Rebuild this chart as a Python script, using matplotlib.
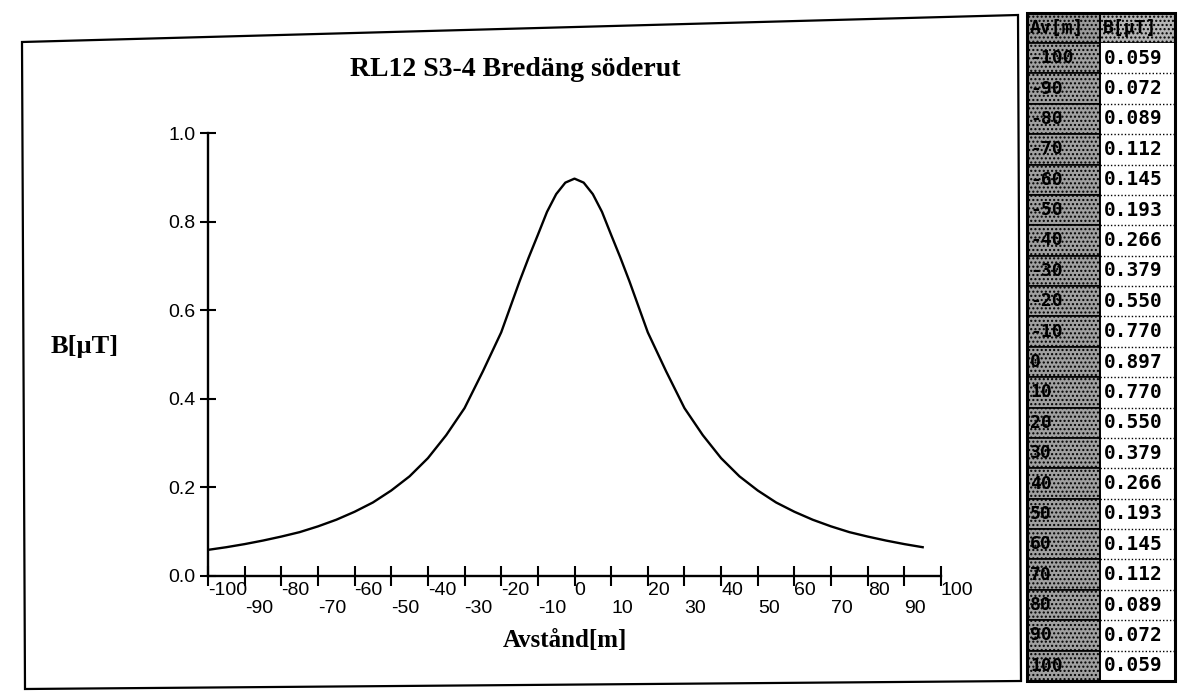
import matplotlib
matplotlib.use("Agg")
import matplotlib.pyplot as plt
from matplotlib.patches import Rectangle, Polygon
from matplotlib.lines import Line2D

# ---- data ----
table_dist = [-100, -90, -80, -70, -60, -50, -40, -30, -20, -10, 0,
              10, 20, 30, 40, 50, 60, 70, 80, 90, 100]
table_B = [0.059, 0.072, 0.089, 0.112, 0.145, 0.193, 0.266, 0.379, 0.550, 0.770, 0.897,
           0.770, 0.550, 0.379, 0.266, 0.193, 0.145, 0.112, 0.089, 0.072, 0.059]

# curve
curve_dist = [-100, -95, -90, -85, -80, -75, -70, -65, -60, -55, -50, -45, -40, -35,
              -30, -25, -20, -15, -12.5, -10, -7.5, -5, -2.5, 0, 2.5, 5, 7.5, 10, 12.5,
              15, 20, 25, 30, 35, 40, 45, 50, 55, 60, 65, 70, 75, 80, 85, 90, 95]
curve_B = [0.059, 0.065, 0.072, 0.080, 0.089, 0.099, 0.112, 0.127, 0.145, 0.166,
           0.193, 0.225, 0.266, 0.318, 0.379, 0.462, 0.550, 0.665, 0.719, 0.770,
           0.822, 0.862, 0.888, 0.897, 0.888, 0.862, 0.822, 0.770, 0.719, 0.665,
           0.550, 0.462, 0.379, 0.318, 0.266, 0.225, 0.193, 0.166, 0.145, 0.127,
           0.112, 0.099, 0.089, 0.080, 0.072, 0.065]

x_ticks = list(range(-100, 101, 10))
y_ticks = [0.0, 0.2, 0.4, 0.6, 0.8, 1.0]
y_ticklabels = ["0.0", "0.2", "0.4", "0.6", "0.8", "1.0"]

title = "RL12 S3-4 Bredäng söderut"
xlabel = "Avstånd[m]"
ylabel = "B[µT]"
table_headers = ["Av[m]", "B[µT]"]

W, H = 1182, 693
fig = plt.figure(figsize=(W / 100, H / 100), dpi=100)
fig.patch.set_facecolor("white")

def fx(px):
    return px / W

def fy(py):
    return 1 - py / H

serif = "Liberation Serif"
sans = "Liberation Sans"

# chart frame (slightly skewed like the scan)
frame = Polygon([(fx(22), fy(42)), (fx(1018), fy(15)), (fx(1021), fy(681)), (fx(25), fy(689))],
                closed=True, fill=False, edgecolor="black", linewidth=1.6,
                transform=fig.transFigure)
fig.patches.append(frame)

ax_bottom_px, ax_top_px = 576, 133
ax = fig.add_axes([fx(208), fy(ax_bottom_px), fx(941) - fx(208), (ax_bottom_px - ax_top_px) / H])
ax.plot(curve_dist, curve_B, color="black", linewidth=1.7, solid_joinstyle="round")
ax.set_xlim(-100, 100)
ax.set_ylim(0, 1.0)
for s in ["top", "right"]:
    ax.spines[s].set_visible(False)
for s in ["left", "bottom"]:
    ax.spines[s].set_linewidth(1.7)
ax.set_xticks(x_ticks)
ax.set_xticklabels([])
ax.tick_params(axis="x", direction="inout", length=15, width=1.5)
ax.set_yticks(y_ticks)
ax.set_yticklabels(y_ticklabels, fontsize=14, family=sans)
ax.tick_params(axis="y", direction="inout", length=12, width=1.5, pad=3)

for i, d in enumerate(x_ticks):
    off = -10.5 if i % 2 == 0 else -23.5
    ax.annotate(str(d), xy=(d, 0), xycoords=("data", "axes fraction"),
                xytext=(0, off), textcoords="offset points",
                ha="left", va="center", fontsize=14, family=sans)

fig.text(fx(515), fy(70), title, ha="center", va="center", fontsize=20, family=serif,
         fontweight="bold")
fig.text(fx(565), fy(640), xlabel, ha="center", va="center", fontsize=18, family=serif,
         fontweight="bold")
fig.text(fx(85), fy(347), ylabel, ha="center", va="center", fontsize=19, family=serif,
         fontweight="bold")

# ---- table ----
tx0, tx1, tx2 = 1027, 1100, 1175
top, head_h = 13, 30
row_h = (681 - 43) / len(table_dist)
mono = "DejaVu Sans Mono"

def frect(x0, y0, x1, y1, **kw):
    r = Rectangle((fx(x0), fy(y1)), fx(x1) - fx(x0), (y1 - y0) / H,
                  transform=fig.transFigure, **kw)
    fig.patches.append(r)

# header
frect(tx0, top, tx1, top + head_h, facecolor="#9a9a9a", edgecolor="black", linewidth=1.2,
      hatch="....")
frect(tx1, top, tx2, top + head_h, facecolor="#b5b5b5", edgecolor="black", linewidth=1.2,
      hatch="....")
fig.text(fx(tx0 + 3), fy(top + head_h / 2), table_headers[0], ha="left", va="center",
         fontsize=13, family=mono, fontweight="bold")
fig.text(fx(tx1 + 3), fy(top + head_h / 2), table_headers[1], ha="left", va="center",
         fontsize=13, family=mono, fontweight="bold")

y0 = top + head_h
for i, (d, b) in enumerate(zip(table_dist, table_B)):
    ya = y0 + i * row_h
    yb = ya + row_h
    frect(tx0, ya, tx1, yb, facecolor="#a0a0a0", edgecolor="black", linewidth=1.2,
          hatch="....")
    frect(tx1, ya, tx2, yb, facecolor="white", edgecolor="none")
    if i > 0:
        fig.lines.append(Line2D([fx(tx1), fx(tx2)], [fy(ya), fy(ya)], color="black",
                                linewidth=1.0, linestyle=(0, (1, 1.5)),
                                transform=fig.transFigure))
    fig.text(fx(tx0 + 3), fy(ya + row_h / 2), str(d), ha="left", va="center",
             fontsize=13, family=mono, fontweight="bold")
    fig.text(fx(tx1 + 4), fy(ya + row_h / 2), f"{b:.3f}", ha="left", va="center",
             fontsize=14, family=mono, fontweight="bold")

# table outer border
frect(tx0, top, tx2, y0 + len(table_dist) * row_h, facecolor="none", edgecolor="black",
      linewidth=2.2)
fig.lines.append(Line2D([fx(tx1), fx(tx1)], [fy(top), fy(y0 + len(table_dist) * row_h)],
                        color="black", linewidth=1.4, transform=fig.transFigure))

fig.savefig("out.png", dpi=100)
